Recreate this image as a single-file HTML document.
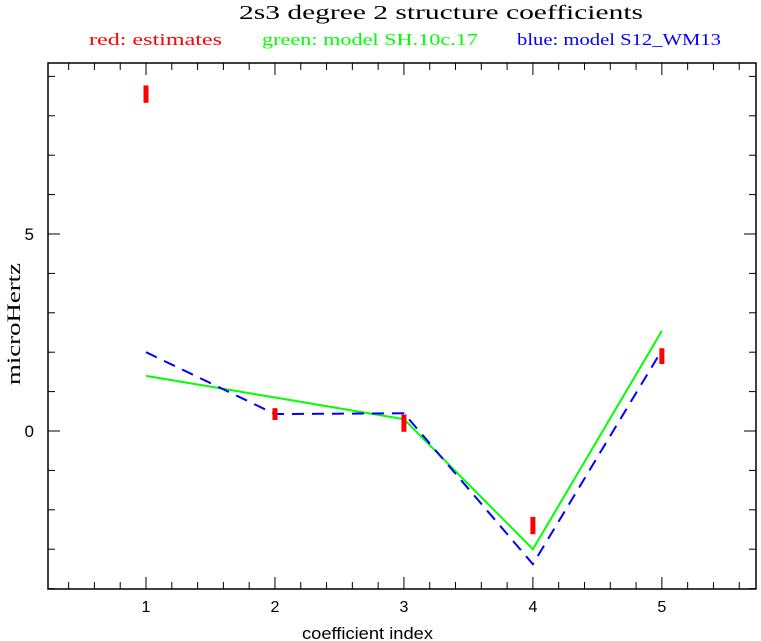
<!DOCTYPE html>
<html><head><meta charset="utf-8"><style>
html,body{margin:0;padding:0;background:#fff;}
svg{display:block;}
text{font-family:"Liberation Serif",serif;}
</style></head><body>
<svg id="chart" width="761" height="641" viewBox="0 0 761 641" xmlns="http://www.w3.org/2000/svg">
<text x="239" y="19" font-size="20" textLength="404" lengthAdjust="spacingAndGlyphs">2s3 degree 2 structure coefficients</text>
<text x="89" y="45" font-size="17" fill="#ff0000" textLength="133" lengthAdjust="spacingAndGlyphs">red: estimates</text>
<text x="262" y="45" font-size="17" fill="#00ff00" textLength="216" lengthAdjust="spacingAndGlyphs">green: model SH.10c.17</text>
<text x="517" y="45" font-size="17" fill="#0000ff" textLength="204" lengthAdjust="spacingAndGlyphs">blue: model S12_WM13</text>
<g id="axes"></g>
<g id="series"></g>
<text x="302" y="639" font-size="17" font-family="Liberation Sans, sans-serif" style="font-family:'Liberation Sans',sans-serif" textLength="131" lengthAdjust="spacingAndGlyphs">coefficient index</text>
<text transform="translate(20,385) rotate(-90)" font-size="19" textLength="122" lengthAdjust="spacingAndGlyphs">microHertz</text>
</svg>
<script>
const categories = [1, 2, 3, 4, 5];
const estimates = [8.55, 0.43, 0.2, -2.4, 1.9];
const estimateErr = [0.22, 0.15, 0.22, 0.22, 0.2];
const greenModel = [1.4, 0.85, 0.3, -3.0, 2.54];
const blueModel = [2.0, 0.43, 0.45, -3.38, 2.05];
const yTickLabels = [0, 5];
const xTickLabels = [1, 2, 3, 4, 5];

const L=48,R=756,T=63,B=589;
const xMin=0.24,xMax=5.73,yMin=-4.01,yMax=9.34;
const xs=v=>L+(v-xMin)/(xMax-xMin)*(R-L);
const ys=v=>B-(v-yMin)/(yMax-yMin)*(B-T);
const NS="http://www.w3.org/2000/svg";
function mk(tag,attrs,parent){const e=document.createElementNS(NS,tag);for(const k in attrs)e.setAttribute(k,attrs[k]);parent.appendChild(e);return e;}
const ax=document.getElementById('axes');
const frame=mk('rect',{x:L,y:T,width:R-L,height:B-T,fill:'none',stroke:'#000','stroke-width':1.5},ax);


// x ticks
for(let v=0.4;v<=5.71;v+=0.2){
  const vv=Math.round(v*10)/10;const major=Math.abs(vv-Math.round(vv))<1e-6;const len=major?12:7;const x=xs(vv);
  const t1=mk('line',{x1:x,x2:x,y1:B,y2:B-len,stroke:'#000','stroke-width':1},ax);
  
  
  const t2=mk('line',{x1:x,x2:x,y1:T,y2:T+len,stroke:'#000','stroke-width':1},ax);
  
  
}
xTickLabels.forEach(v=>{
  const t=mk('text',{x:xs(v),y:612,'font-size':16,'text-anchor':'middle',style:"font-family:'Liberation Sans',sans-serif"},ax);
  t.textContent=v;
  
  
});
for(let v=-4;v<=9;v++){
  const major=v%5===0;const len=major?12:7;const y=ys(v);
  const t1=mk('line',{x1:L,x2:L+len,y1:y,y2:y,stroke:'#000','stroke-width':1},ax);
  
  
  const t2=mk('line',{x1:R,x2:R-len,y1:y,y2:y,stroke:'#000','stroke-width':1},ax);
  
  
}
yTickLabels.forEach(v=>{
  const t=mk('text',{x:34,y:ys(v)+6,'font-size':17,'text-anchor':'end',style:"font-family:'Liberation Sans',sans-serif"},ax);
  t.textContent=v;
  
  
});
const se=document.getElementById('series');
const pts=arr=>arr.map((v,i)=>xs(categories[i])+','+ys(v)).join(' ');
const g=mk('polyline',{points:pts(greenModel),fill:'none',stroke:'#00ff00','stroke-width':2},se);


const b=mk('polyline',{points:pts(blueModel),fill:'none',stroke:'#0000ff','stroke-width':2,'stroke-dasharray':'12,8'},se);


estimates.forEach((v,i)=>{
  const x=xs(categories[i]);const y1=ys(v+estimateErr[i]),y2=ys(v-estimateErr[i]);
  const r=mk('rect',{x:x-2.5,y:y1,width:5,height:y2-y1,fill:'#ff0000'},se);
  
  
});
</script>
</body></html>
